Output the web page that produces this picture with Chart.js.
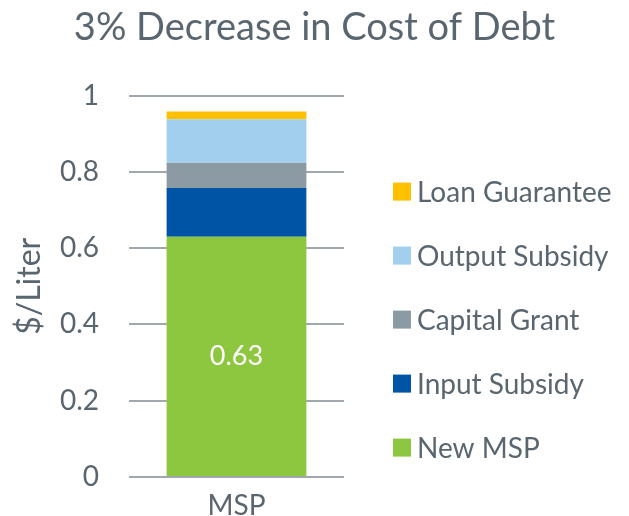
<!DOCTYPE html>
<html>
<head>
<meta charset="utf-8">
<script src="https://cdn.jsdelivr.net/npm/chart.js@4"></script>
<style>
    html, body { margin: 0; padding: 0; background: #ffffff; }
    #wrap { width: 629px; height: 516px; }
</style>
</head>
<body>
<div id="wrap"><canvas id="debt-chart" width="629" height="516"></canvas></div>
<script>
const categories = ["MSP"];
const seriesNames = ["New MSP", "Input Subsidy", "Capital Grant", "Output Subsidy", "Loan Guarantee"];
const newMsp = [0.63];
const inputSubsidy = [0.128];
const capitalGrant = [0.066];
const outputSubsidy = [0.114];
const loanGuarantee = [0.02];
const seriesColors = ["#8DC63F", "#0054A6", "#8C9AA3", "#A3CFEF", "#FFC000"];
const yTicks = [0, 0.2, 0.4, 0.6, 0.8, 1];

const FONT = "Lato, 'Open Sans', sans-serif";
const TEXT = "#59666F";

document.addEventListener("DOMContentLoaded", function () {
    const seriesValues = [newMsp, inputSubsidy, capitalGrant, outputSubsidy, loanGuarantee];

    const chartData = {
        labels: categories,
        datasets: seriesNames.map(function (name, i) {
            return {
                label: name,
                data: seriesValues[i],
                backgroundColor: seriesColors[i],
                borderWidth: 0,
                barPercentage: 0.65,
                categoryPercentage: 1,
            };
        }),
    };

    // white value label only on the base segment
    const valueLabel = {
        id: "valueLabel",
        afterDatasetsDraw: function (chart) {
            const ctx = chart.ctx;
            const bar = chart.getDatasetMeta(0).data[0];
            ctx.save();
            ctx.fillStyle = "#ffffff";
            ctx.font = "27px " + FONT;
            ctx.textAlign = "center";
            ctx.textBaseline = "middle";
            ctx.fillText(newMsp[0].toFixed(2), bar.x, (bar.y + bar.base) / 2);
            ctx.restore();
        },
    };

    // legend on the right, top series first
    const sideLegend = {
        id: "sideLegend",
        afterDraw: function (chart) {
            const ctx = chart.ctx;
            const area = chart.chartArea;
            const left = area.right + 49;
            ctx.save();
            ctx.font = "28px " + FONT;
            ctx.textBaseline = "middle";
            chart.data.datasets.slice().reverse().forEach(function (ds, i) {
                const cy = area.top + 96 + i * 64;
                ctx.fillStyle = ds.backgroundColor;
                ctx.fillRect(left, cy - 9, 18, 18);
                ctx.fillStyle = TEXT;
                ctx.fillText(ds.label, left + 24, cy + 1);
            });
            ctx.restore();
        },
    };

    new Chart(document.getElementById("debt-chart"), {
        type: "bar",
        data: chartData,
        plugins: [valueLabel, sideLegend],
        options: {
            responsive: false,
            animation: false,
            layout: { padding: 0 },
            scales: {
                x: {
                    stacked: true,
                    grid: { display: false, drawTicks: false },
                    border: { display: false },
                    ticks: { color: TEXT, font: { family: FONT, size: 28 }, padding: 12 },
                    afterFit: function (scale) { scale.height = 39; },
                },
                y: {
                    stacked: true,
                    min: 0,
                    max: 1,
                    afterBuildTicks: function (scale) {
                        scale.ticks = yTicks.map(function (v) { return { value: v }; });
                    },
                    grid: { color: "#A0A8AE", lineWidth: 2, drawTicks: false },
                    border: { display: false },
                    ticks: {
                        color: TEXT,
                        font: { family: FONT, size: 28 },
                        padding: 30,
                        callback: function (v) { return String(v); },
                    },
                    title: {
                        display: true,
                        text: "$/Liter",
                        color: TEXT,
                        font: { family: FONT, size: 32 },
                        padding: { top: 10, bottom: 0 },
                    },
                    afterFit: function (scale) {
                        scale.width = 129;
                        scale.paddingTop = 17;
                        scale.paddingBottom = 17;
                    },
                },
                // empty axis that keeps room for the legend on the right
                legendSpace: {
                    position: "right",
                    grid: { display: false },
                    border: { display: false },
                    ticks: { display: false },
                    afterFit: function (scale) { scale.width = 285; },
                },
            },
            plugins: {
                title: {
                    display: true,
                    text: "3% Decrease in Cost of Debt",
                    color: TEXT,
                    font: { family: FONT, size: 38, weight: "normal" },
                    padding: { top: 5, bottom: 45 },
                },
                legend: { display: false },
                tooltip: { enabled: false },
            },
        },
    });
});
</script>
</body>
</html>
